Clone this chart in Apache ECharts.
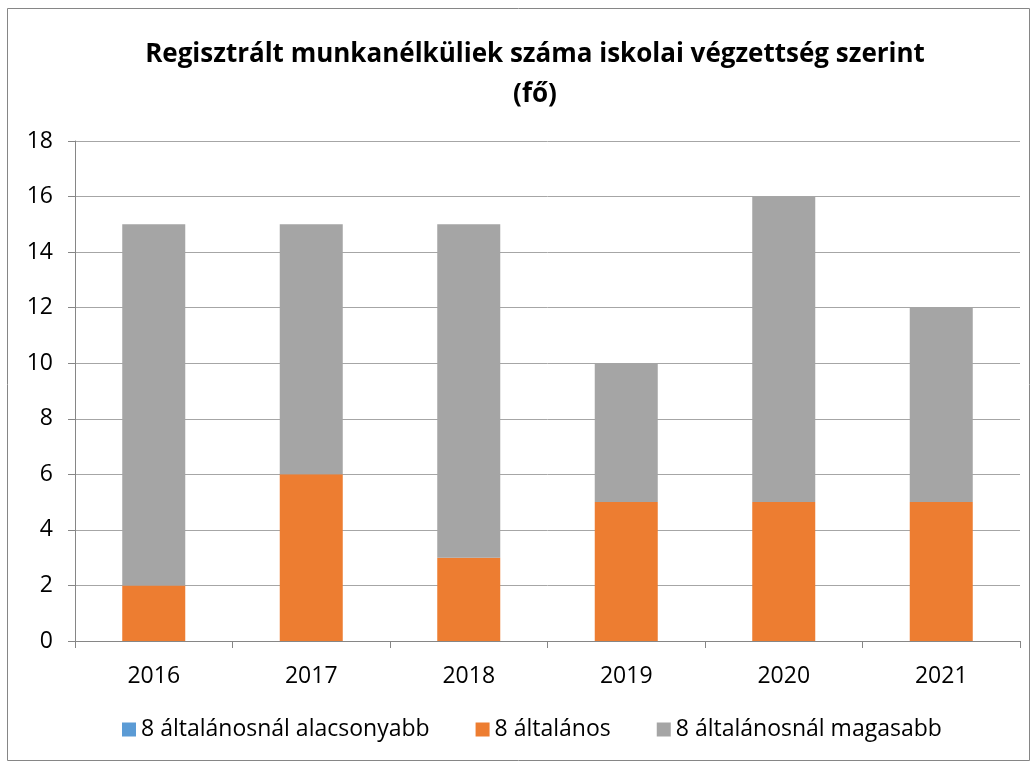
<!DOCTYPE html>
<html>
<head>
<meta charset="utf-8">
<script src="https://cdn.jsdelivr.net/npm/echarts@6/dist/echarts.min.js"></script>
<style>
  html, body { margin: 0; padding: 0; background: #fff; }
  #chart { width: 1035px; height: 767px; }
</style>
</head>
<body>
<div id="chart"></div>
<script>
// adatok
const years = ["2016", "2017", "2018", "2019", "2020", "2021"];
const alacsonyabb = [0, 0, 0, 0, 0, 0];
const altalanos = [2, 6, 3, 5, 5, 5];
const magasabb = [13, 9, 12, 5, 11, 7];
const seriesNames = ["8 általánosnál alacsonyabb", "8 általános", "8 általánosnál magasabb"];

const font = "'Open Sans', sans-serif";
const chart = echarts.init(document.getElementById("chart"));

chart.setOption({
  animation: false,
  color: ["#5B9BD5", "#ED7D31", "#A5A5A5"],
  graphic: [{
    type: "rect",
    shape: { x: 7.5, y: 8.5, width: 1022, height: 752 },
    style: { fill: "none", stroke: "#868686", lineWidth: 1 },
    silent: true
  }],
  title: {
    text: "Regisztrált munkanélküliek száma iskolai végzettség szerint\n(fő)",
    left: 530,
    top: 30,
    textAlign: "center",
    textStyle: { fontFamily: font, fontSize: 26, fontWeight: "bold", color: "#000", lineHeight: 40 }
  },
  legend: {
    bottom: 21,
    left: 117,
    itemWidth: 14,
    itemHeight: 14,
    itemGap: 46,
    icon: "rect",
    textStyle: { fontFamily: font, fontSize: 23, color: "#000" },
    data: seriesNames
  },
  grid: { left: 75, right: 15, top: 141, bottom: 126 },
  xAxis: {
    type: "category",
    data: years,
    axisLine: { lineStyle: { color: "#868686" } },
    axisTick: { show: true, length: 7, lineStyle: { color: "#868686" } },
    axisLabel: { fontFamily: font, fontSize: 23, color: "#000", margin: 24 }
  },
  yAxis: {
    type: "value",
    min: 0,
    max: 18,
    interval: 2,
    axisLine: { show: true, lineStyle: { color: "#868686" } },
    axisTick: { show: true, length: 7, lineStyle: { color: "#868686" } },
    axisLabel: { fontFamily: font, fontSize: 23, color: "#000", margin: 22 },
    splitLine: { lineStyle: { color: "#a6a6a6" } }
  },
  series: [
    { name: seriesNames[0], type: "bar", stack: "t", barWidth: "40%", data: alacsonyabb },
    { name: seriesNames[1], type: "bar", stack: "t", barWidth: "40%", data: altalanos },
    { name: seriesNames[2], type: "bar", stack: "t", barWidth: "40%", data: magasabb }
  ]
});
</script>
</body>
</html>
